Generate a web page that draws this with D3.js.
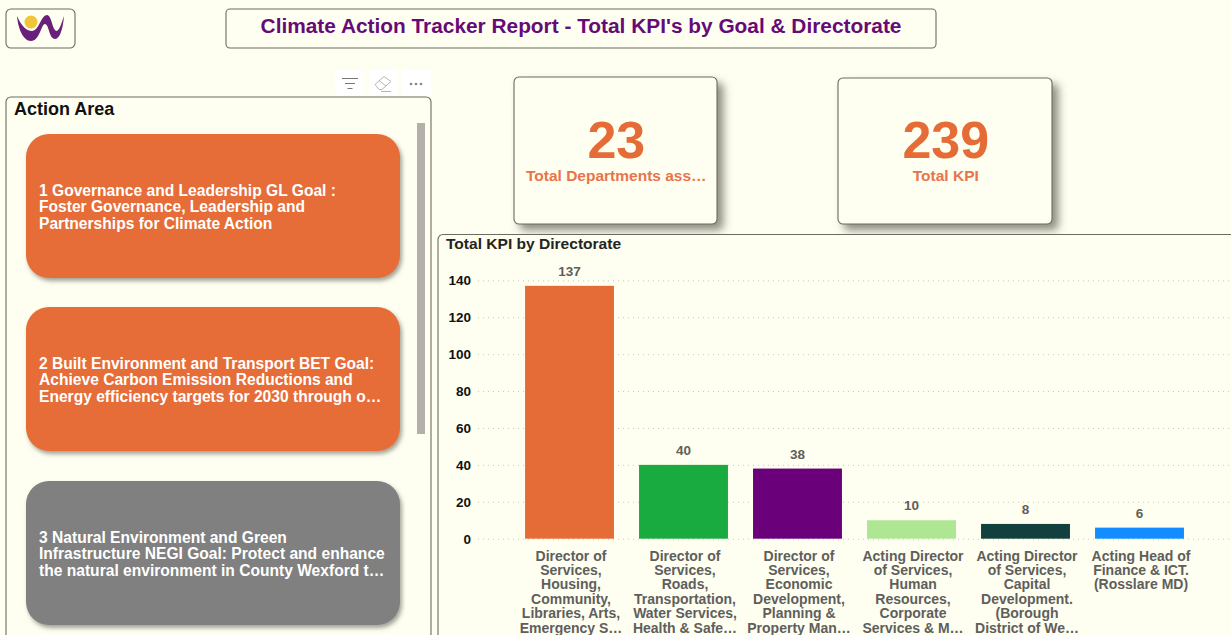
<!DOCTYPE html>
<html>
<head>
<meta charset="utf-8">
<script src="https://cdn.jsdelivr.net/npm/d3@7"></script>
<style>
  html, body { margin: 0; padding: 0; background: #fefff1; overflow: hidden; }
  text { font-family: "Liberation Sans", Arial, sans-serif; }
</style>
</head>
<body>
<div id="chart"></div>
<script>
var width = 1231, height = 635;

var directorates = ["d1", "d2", "d3", "d4", "d5", "d6"];
var kpiValues = [137, 40, 38, 10, 8, 6];
var barColors = ["#e66c37", "#1aab40", "#6b007b", "#aee694", "#12403e", "#118dff"];
var yTicks = [0, 20, 40, 60, 80, 100, 120, 140];
var directorateLabels = [
  ["Director of", "Services,", "Housing,", "Community,", "Libraries, Arts,", "Emergency S\u2026"],
  ["Director of", "Services,", "Roads,", "Transportation,", "Water Services,", "Health & Safe\u2026"],
  ["Director of", "Services,", "Economic", "Development,", "Planning &", "Property Man\u2026"],
  ["Acting Director", "of Services,", "Human", "Resources,", "Corporate", "Services & M\u2026"],
  ["Acting Director", "of Services,", "Capital", "Development.", "(Borough", "District of We\u2026"],
  ["Acting Head of", "Finance & ICT.", "(Rosslare MD)"]
];
var actionAreas = [
  ["1 Governance and Leadership GL Goal :", "Foster Governance, Leadership and", "Partnerships for Climate Action"],
  ["2 Built Environment and Transport BET Goal:", "Achieve Carbon Emission Reductions and", "Energy efficiency targets for 2030 through o\u2026"],
  ["3 Natural Environment and Green", "Infrastructure NEGI Goal: Protect and enhance", "the natural environment in County Wexford t\u2026"]
];
var actionColors = ["#e66c37", "#e66c37", "#808080"];
var actionTops = [134, 307, 481];

var svg = d3.select("#chart").append("svg")
    .attr("width", width)
    .attr("height", height);

// soft shadows, power bi style
var defs = svg.append("defs");
var cardShadow = defs.append("filter").attr("id", "cardShadow")
    .attr("x", "-10%").attr("y", "-10%").attr("width", "125%").attr("height", "125%");
cardShadow.append("feDropShadow").attr("dx", 6).attr("dy", 6).attr("stdDeviation", 4)
    .attr("flood-color", "#55554a").attr("flood-opacity", 0.65);
var pillShadow = defs.append("filter").attr("id", "pillShadow")
    .attr("x", "-5%").attr("y", "-10%").attr("width", "110%").attr("height", "125%");
pillShadow.append("feDropShadow").attr("dx", 2).attr("dy", 3).attr("stdDeviation", 2)
    .attr("flood-color", "#55554a").attr("flood-opacity", 0.55);

function box(x, y, w, h, r) {
  return svg.append("rect")
      .attr("x", x).attr("y", y)
      .attr("width", w).attr("height", h)
      .attr("rx", r).attr("ry", r)
      .attr("fill", "#fefff1")
      .attr("stroke", "#6b6b60")
      .attr("stroke-width", 1.1);
}

// header
box(6, 9, 69, 39, 5);
box(226, 9, 710, 39, 4);
svg.append("text")
    .attr("x", 581).attr("y", 33)
    .attr("text-anchor", "middle")
    .attr("font-size", 20.85).attr("font-weight", "bold")
    .attr("fill", "#660a78")
    .text("Climate Action Tracker Report - Total KPI's by Goal & Directorate");

// logo
svg.append("circle").attr("cx", 31).attr("cy", 22).attr("r", 6.5).attr("fill", "#f2c438");
svg.append("path")
    .attr("d", "M17,16 C21,25 26,31 32,31 C39,31 41,15 47,15 C52,15 52,31 57,31 C60,29 62,22 64,16 C63,28 60,39 55,39 C49,39 49,24 45,24 C41,24 40,41 31,41 C23,41 18,28 17,16 Z")
    .attr("fill", "#6a1f7a");

// toolbar over the slicer
var tools = svg.append("g");
[335, 369, 402].forEach(function(x) {
  tools.append("rect").attr("x", x).attr("y", 70).attr("width", 29).attr("height", 25).attr("fill", "#ffffff");
});
tools.append("path")
    .attr("d", "M342,78.500H358M345,83.500H355M347.500,88.500H352.500")
    .attr("stroke", "#777").attr("stroke-width", 1).attr("fill", "none");
tools.append("path")
    .attr("d", "M375,84.500L384,76.500L391,81.500L382,89.500H379ZM379,80.500L386,86M381,91.500H391")
    .attr("stroke", "#b5b5b0").attr("stroke-width", 1).attr("fill", "none");
[411, 416, 421].forEach(function(x) {
  tools.append("circle").attr("cx", x).attr("cy", 84).attr("r", 1.3).attr("fill", "#888");
});

// slicer
box(6, 97, 425, 560, 5);
svg.append("text")
    .attr("x", 14).attr("y", 115)
    .attr("font-size", 18).attr("font-weight", "bold")
    .attr("fill", "#111")
    .text("Action Area");
svg.append("rect").attr("x", 417).attr("y", 123).attr("width", 8).attr("height", 311).attr("fill", "#b3afa9");

var pills = svg.selectAll(".pill")
    .data(actionAreas)
  .enter().append("g")
    .attr("class", "pill")
    .attr("transform", function(d, i) { return "translate(26," + actionTops[i] + ")"; });

pills.append("rect")
    .attr("width", 374).attr("height", 144)
    .attr("rx", 23).attr("ry", 23)
    .attr("fill", function(d, i) { return actionColors[i]; })
    .attr("filter", "url(#pillShadow)");

pills.each(function(lines) {
  d3.select(this).selectAll("text")
      .data(lines)
    .enter().append("text")
      .attr("x", 13)
      .attr("y", function(d, i) { return 61.5 + i * 16.6; })
      .attr("font-size", 15.6).attr("font-weight", "bold")
      .attr("fill", "#fff")
      .text(function(d) { return d; });
});

// kpi cards
function card(x, y, w, h, value, label, cy) {
  box(x, y, w, h, 5).attr("filter", "url(#cardShadow)");
  svg.append("text")
      .attr("x", x + w / 2 + 0.8).attr("y", cy)
      .attr("text-anchor", "middle")
      .attr("font-size", 52).attr("font-weight", "bold")
      .attr("fill", "#e66c37")
      .text(value);
  svg.append("text")
      .attr("x", x + w / 2 + 0.8).attr("y", cy + 23)
      .attr("text-anchor", "middle")
      .attr("font-size", 15.5).attr("font-weight", "bold")
      .attr("fill", "#e9744a")
      .text(label);
}
card(514, 77, 203, 147, "23", "Total Departments ass\u2026", 158);
card(838, 78, 214, 146, "239", "Total KPI", 158);

// bar chart panel
box(438, 234.5, 800, 420, 5);
svg.append("text")
    .attr("x", 446).attr("y", 249)
    .attr("font-size", 15.55).attr("font-weight", "bold")
    .attr("fill", "#252423")
    .text("Total KPI by Directorate");

var y = d3.scaleLinear().domain([0, 140]).range([538.7, 280.3]);
var x = d3.scaleBand()
    .domain(directorates)
    .range([512.5, 1196.5])
    .paddingInner(0.22)
    .paddingOuter(0.11);

var yAxis = svg.append("g")
    .attr("transform", "translate(471,0)")
    .call(d3.axisLeft(y).tickValues(yTicks).tickSize(0).tickPadding(0));
yAxis.select(".domain").remove();
yAxis.selectAll("text")
    .attr("font-family", "Liberation Sans")
    .attr("font-size", 13.5).attr("font-weight", "bold")
    .attr("fill", "#111");

svg.selectAll(".gridline")
    .data(yTicks)
  .enter().append("line")
    .attr("class", "gridline")
    .attr("x1", 478).attr("x2", width)
    .attr("y1", function(d) { return y(d) + 0.5; })
    .attr("y2", function(d) { return y(d) + 0.5; })
    .attr("stroke", "#c8c8bc")
    .attr("stroke-width", 1)
    .attr("stroke-dasharray", "1 4");

svg.selectAll(".bar")
    .data(kpiValues)
  .enter().append("rect")
    .attr("class", "bar")
    .attr("x", function(d, i) { return x(directorates[i]); })
    .attr("y", function(d) { return y(d); })
    .attr("width", x.bandwidth())
    .attr("height", function(d) { return y(0) - y(d); })
    .attr("fill", function(d, i) { return barColors[i]; });

svg.selectAll(".barLabel")
    .data(kpiValues)
  .enter().append("text")
    .attr("class", "barLabel")
    .attr("x", function(d, i) { return x(directorates[i]) + x.bandwidth() / 2; })
    .attr("y", function(d) { return y(d) - 10; })
    .attr("text-anchor", "middle")
    .attr("font-size", 13.5).attr("font-weight", "bold")
    .attr("fill", "#605e5c")
    .text(function(d) { return d; });

// wrapped category labels
var catLabels = svg.selectAll(".catLabel")
    .data(directorateLabels)
  .enter().append("g")
    .attr("class", "catLabel")
    .attr("transform", function(d, i) { return "translate(" + (x(directorates[i]) + x.bandwidth() / 2 + 1.5) + ",0)"; });

catLabels.each(function(lines) {
  d3.select(this).selectAll("text")
      .data(lines)
    .enter().append("text")
      .attr("y", function(d, i) { return 560.5 + i * 14.4; })
      .attr("text-anchor", "middle")
      .attr("font-size", 14).attr("font-weight", "bold")
      .attr("fill", "#605e5c")
      .text(function(d) { return d; });
});
</script>
</body>
</html>
